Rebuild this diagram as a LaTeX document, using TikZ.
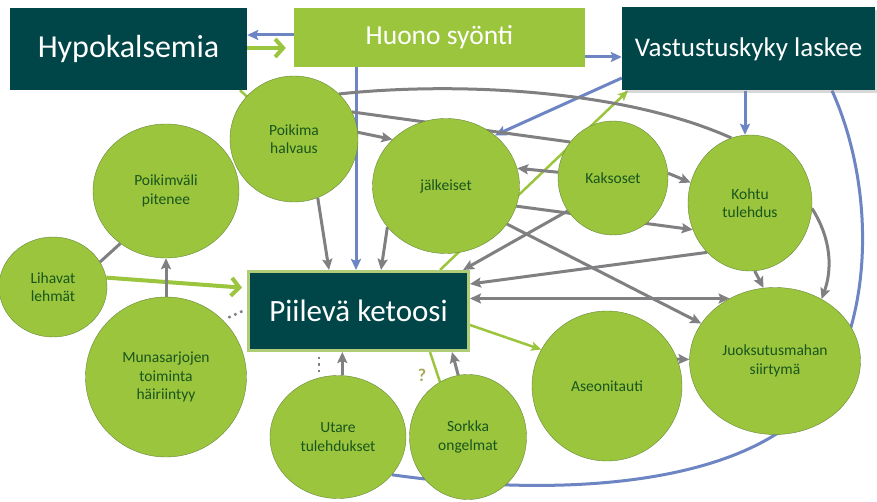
\documentclass[tikz,border=0pt]{standalone}
\usepackage{fontspec}
\setmainfont{Carlito}
\usetikzlibrary{arrows.meta,shapes.geometric,backgrounds,shadows}
\definecolor{darkteal}{RGB}{0,70,72}
\definecolor{leafgreen}{RGB}{154,197,60}
\definecolor{paleedge}{RGB}{175,205,120}
\definecolor{circline}{RGB}{105,135,60}
\definecolor{textgreen}{RGB}{25,85,30}
\definecolor{arrgray}{RGB}{128,128,130}
\definecolor{arrblue}{RGB}{110,133,196}
\definecolor{qcolor}{RGB}{165,170,85}
\tikzset{
  darkbox/.style={rectangle,fill=darkteal,text=white,inner sep=0pt},
  lightbox/.style={rectangle,fill=leafgreen,text=white,inner sep=0pt},
  cause/.style={ellipse,draw=circline,fill=leafgreen,text=textgreen,align=center,
    inner sep=0pt,font=\fontsize{15.5}{18.5}\selectfont},
  grayarr/.style={-{Stealth[length=11pt,width=10pt,inset=2pt]},draw=arrgray,line width=3pt},
  grayboth/.style={{Stealth[length=11pt,width=10pt,inset=2pt]}-{Stealth[length=11pt,width=10pt,inset=2pt]},draw=arrgray,line width=3pt},
  grayline/.style={draw=arrgray,line width=3pt},
  bluearr/.style={-{Stealth[length=11pt,width=10pt,inset=2pt]},draw=arrblue,line width=3pt},
  blueline/.style={draw=arrblue,line width=3pt},
  greenarr/.style={-{Straight Barb[length=8pt,width=18pt]},draw=leafgreen,line width=4pt},
  greenthin/.style={-{Stealth[length=10pt,width=9pt,inset=2pt]},draw=leafgreen,line width=2.5pt},
  greenline/.style={draw=leafgreen,line width=2.5pt},
  dotline/.style={draw=arrgray,line width=2.5pt,dash pattern=on 2.5pt off 4pt}
}
\begin{document}
\begin{tikzpicture}[x=1pt,y=-1pt]
\useasboundingbox (0,0) rectangle (877,502);
% boxes
\node[darkbox,minimum width=237pt,minimum height=82pt,font=\fontsize{32}{36}\selectfont] (hypo) at (128.5,49) {Hypokalsemia};
\node[lightbox,minimum width=291pt,minimum height=59pt,font=\fontsize{27.5}{32}\selectfont] (huono) at (439.5,37.5) {Huono syönti};
\node[darkbox,drop shadow={opacity=0.3,shadow xshift=3pt,shadow yshift=-3pt},minimum width=253pt,minimum height=83pt,font=\fontsize{27}{32}\selectfont] (vast) at (748.5,49) {Vastustuskyky laskee};
\node[darkbox,draw=paleedge,line width=3pt,minimum width=220pt,minimum height=79pt,font=\fontsize{31}{36}\selectfont] (piil) at (358.5,311) {Piilevä ketoosi};
% circles
\node[cause,minimum width=146pt,minimum height=134pt] (vali) at (166,191) {Poikimväli\\pitenee};
\node[cause,minimum width=128pt,minimum height=126pt] (poik) at (294,139) {Poikima\\halvaus};
\node[cause,minimum width=108pt,minimum height=100pt] (liha) at (53,287) {Lihavat\\lehmät};
\node[cause,minimum width=161pt,minimum height=160pt] (muna) at (166,377) {Munasarjojen\\toiminta\\häiriintyy};
\node[cause,minimum width=147pt,minimum height=135pt] (jalk) at (446,186) {jälkeiset};
\node[cause,minimum width=110pt,minimum height=114pt] (kaks) at (613,178) {Kaksoset};
\node[cause,minimum width=124pt,minimum height=136pt] (koht) at (750,203) {Kohtu\\tulehdus};
\node[cause,minimum width=171pt,minimum height=147pt] (juok) at (775,361) {Juoksutusmahan\\siirtymä};
\node[cause,minimum width=150pt,minimum height=150pt] (aseo) at (607,386) {Aseonitauti};
\node[cause,minimum width=136pt,minimum height=123pt] (utar) at (338,437) {Utare\\tulehdukset};
\node[cause,minimum width=117pt,minimum height=125pt] (sork) at (468,437) {Sorkka\\ongelmat};
\node[text=qcolor,font=\bfseries\fontsize{18}{20}\selectfont] (qmark) at (422,375) {?};
% connectors behind the nodes
\begin{scope}[on background layer]
\fill[white] (0,0) rectangle (877,502);
\draw[bluearr] (huono.west |- 0,35) -- (hypo.east |- 0,35);
\draw[greenarr,shorten >=8pt] (hypo.east |- 0,48) -- (huono.west |- 0,48);
\draw[bluearr] (huono.east |- 0,57) -- (vast.west |- 0,57);
\draw[bluearr] (huono.south -| 356,0) -- (piil.north -| 356,0);
\draw[bluearr] (vast.west |- 0,78) -- (jalk.46);
\draw[bluearr] (vast.south -| 745,0) -- (koht.north -| 745,0);
\draw[blueline] (vast.south -| 832,0) .. controls (868,170) and (878,290) .. (830,380)
  .. controls (770,485) and (570,500) .. (utar.-35);
\draw[greenarr,shorten >=5pt] (liha.10) -- (piil.west |- 0,288);
\draw[greenthin] (piil.north -| 440,0) -- (vast.south -| 628,0);
\draw[greenthin] (piil.east |- 0,325) -- (aseo.151);
\draw[greenline] (piil.south -| 430,0) -- (sork.117);
\draw[greenline] (hypo.south -| 240,0) -- (poik.138);
\draw[grayarr] (poik.-68) -- (piil.north -| 329,0);
\draw[grayarr] (jalk.-145) -- (piil.north -| 381,0);
\draw[grayline] (poik.45) .. controls (450,82) and (620,88) .. (koht.106);
\draw[grayline] (poik.25) -- (kaks.140);
\draw[grayarr] (poik.6) -- (jalk.139);
\draw[grayarr] (kaks.174) -- (jalk.14);
\draw[grayarr] (kaks.5) -- (koht.161);
\draw[grayarr] (jalk.-16) -- (koht.205);
\draw[grayarr] (kaks.216) -- ([xshift=-7pt]piil.north east);
\draw[grayarr] (koht.229) -- (piil.east |- 0,284);
\draw[grayboth] (juok.126) -- (piil.east |- juok.126);
\draw[grayarr] (jalk.-32) -- (juok.153);
\draw[grayarr] (koht.-86) -- (juok.99);
\draw[grayarr] (koht.-5) .. controls (832,240) and (832,270) .. (juok.53);
\draw[grayarr] (aseo.21) -- (juok.179);
\draw[grayarr] (muna.north) -- (vali.south);
\draw[grayline] (liha.28) -- (vali.229);
\draw[grayarr] (utar.86) -- (piil.south -| utar.86);
\draw[grayarr] (sork.99) -- (piil.south -| 452,0);
\draw[dotline,shorten <=3pt,shorten >=5pt] (utar.north -| 319,0) -- (piil.south -| 319,0);
\draw[dotline,shorten <=6pt,shorten >=5pt] (muna.45) -- (piil.west |- 0,309);
\end{scope}
\end{tikzpicture}
\end{document}
